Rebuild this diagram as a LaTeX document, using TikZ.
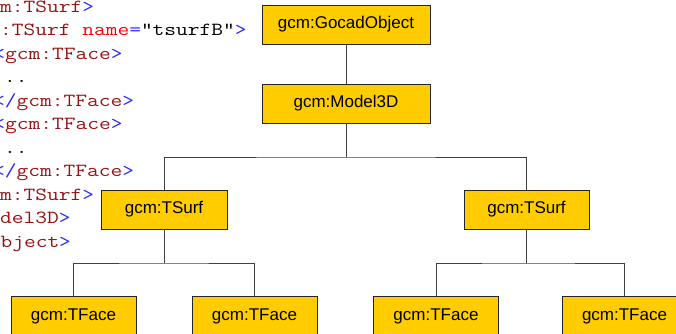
\documentclass[tikz,border=0pt]{standalone}
\usepackage{fontspec}
\setmainfont{Liberation Sans}
\definecolor{boxgold}{RGB}{255,204,0}
\definecolor{xtag}{RGB}{153,17,17}
\definecolor{xbr}{RGB}{40,40,255}
\definecolor{xattr}{RGB}{255,0,0}
\definecolor{xval}{RGB}{0,0,0}
\newcommand{\xB}[1]{\textcolor{xbr}{#1}}
\newcommand{\xE}[1]{\textcolor{xtag}{#1}}
\newcommand{\xA}[1]{\textcolor{xattr}{#1}}
\newcommand{\xV}[1]{\textcolor{xval}{#1}}
\newcommand{\codeline}[1]{\scalebox{1.232}[1]{\ttfamily\fontsize{18.5}{23}\selectfont #1}}
\begin{document}
\begin{tikzpicture}[x=1pt,y=-1pt,
  box/.style={draw=black!85, line width=0.9pt, fill=boxgold, minimum height=39pt,
    inner sep=0pt, font=\fontsize{17}{20}\selectfont},
  conn/.style={draw=black!75, line width=0.9pt},
  code/.style={anchor=base west, inner sep=0pt}]
\useasboundingbox (0,0) rectangle (676,333);
\clip (0,0) rectangle (676,333);
% code listing
\node[code] (c1) at (-47,12.3) {\codeline{\xB{</}\xE{gcm:TSurf}\xB{>}}};
\node[code] (c2) at (-47,35.8) {\codeline{\xB{<}\xE{gcm:TSurf}~\xA{name}\xB{=}\xV{"tsurfB"}\xB{>}}};
\node[code] (c3) at (-6.7,59.3) {\codeline{\xB{<}\xE{gcm:TFace}\xB{>}}};
\node[code] (c4) at (4,82.8) {\codeline{\xV{..}}};
\node[code] (c5) at (-7,106.3) {\codeline{\xB{</}\xE{gcm:TFace}\xB{>}}};
\node[code] (c6) at (-6.7,129.8) {\codeline{\xB{<}\xE{gcm:TFace}\xB{>}}};
\node[code] (c7) at (4,153.3) {\codeline{\xV{..}}};
\node[code] (c8) at (-7,176.8) {\codeline{\xB{</}\xE{gcm:TFace}\xB{>}}};
\node[code] (c9) at (-47,200.3) {\codeline{\xB{</}\xE{gcm:TSurf}\xB{>}}};
\node[code] (c10) at (-94,223.8) {\codeline{\xB{</}\xE{gcm:Model3D}\xB{>}}};
\node[code] (c11) at (-140.5,247.5) {\codeline{\xB{</}\xE{gcm:GocadObject}\xB{>}}};
% boxes
\node[box, minimum width=168pt] (go) at (346,24.5) {gcm:GocadObject};
\node[box, minimum width=168pt] (m3) at (346,103.5) {gcm:Model3D};
\node[box, minimum width=126pt] (tsL) at (164,209.5) {gcm:TSurf};
\node[box, minimum width=125pt] (tsR) at (526.5,209.5) {gcm:TSurf};
\node[box, minimum width=125pt, minimum height=40pt] (tf1) at (73.5,316) {gcm:TFace};
\node[box, minimum width=125pt, minimum height=40pt] (tf2) at (254.5,316) {gcm:TFace};
\node[box, minimum width=125pt, minimum height=40pt] (tf3) at (436,316) {gcm:TFace};
\node[box, minimum width=125pt, minimum height=40pt] (tf4) at (624.5,316) {gcm:TFace};
% connectors
\coordinate (j1) at (346,157);
\coordinate (j2) at (164,263);
\coordinate (j3) at (526.5,263);
\draw[conn] (go.south) -- (m3.north);
\draw[conn] (m3.south) -- (j1);
\draw[conn] (tsL.north) |- (j1) -| (tsR.north);
\draw[conn] (tsL.south) -- (j2);
\draw[conn] (tf1.north) |- (j2) -| (tf2.north);
\draw[conn] (tsR.south) -- (j3);
\draw[conn] (tf3.north) |- (j3) -| (tf4.north);
\end{tikzpicture}
\end{document}
